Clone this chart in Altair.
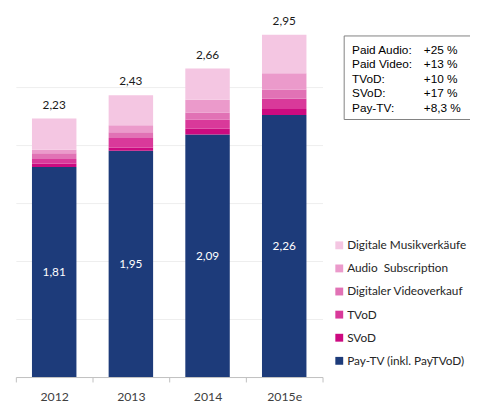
import altair as alt
import pandas as pd

categories = ["2012", "2013", "2014", "2015e"]
series = ["Pay-TV (inkl. PayTVoD)", "SVoD", "TVoD", "Digitaler Videoverkauf",
          "Audio\u00a0 Subscription", "Digitale Musikverkäufe"]
colors = ["#1d3b7a", "#cc0a80", "#d9399a", "#e172b5", "#eb9acb", "#f4c6e2"]

pay_tv = [1.81, 1.95, 2.09, 2.26]
svod = [0.03, 0.03, 0.05, 0.05]
tvod = [0.04, 0.08, 0.08, 0.09]
video = [0.05, 0.05, 0.06, 0.08]
audio = [0.03, 0.06, 0.11, 0.14]
music = [0.27, 0.26, 0.27, 0.33]
totals = [2.23, 2.43, 2.66, 2.95]

box_labels = ["Paid Audio:", "Paid Video:", "TVoD:", "SVoD:", "Pay-TV:"]
box_values = ["+25 %", "+13 %", "+10 %", "+17 %", "+8,3 %"]

def de(v):
    return f"{v:.2f}".replace(".", ",")

all_series = [pay_tv, svod, tvod, video, audio, music]
rows = []
for i, c in enumerate(categories):
    for k, (name, vals) in enumerate(zip(series, all_series)):
        rows.append({"year": c, "series": name, "value": vals[i], "order": k})
df = pd.DataFrame(rows)
df_tot = pd.DataFrame({"year": categories, "total": totals,
                       "label": [de(v) for v in totals]})
df_pay = pd.DataFrame({"year": categories, "pay": pay_tv,
                       "label": [de(v) for v in pay_tv]})

x_enc = alt.X("year:N", sort=categories,
              scale=alt.Scale(paddingInner=0, paddingOuter=0),
              axis=alt.Axis(title=None, labelAngle=0, tickBand="extent",
                            domainColor="#bfbfbf", tickColor="#bfbfbf",
                            tickSize=5, labelFont="Lato", labelFontSize=12.5,
                            labelColor="#404040", labelPadding=9, grid=False))

legend_order = list(reversed(series))
legend_colors = list(reversed(colors))

bars = alt.Chart(df).mark_bar(width=alt.RelativeBandSize(0.58)).encode(
    x=x_enc,
    y=alt.Y("value:Q", stack="zero",
            scale=alt.Scale(domain=[0, 3], nice=False),
            axis=alt.Axis(title=None, values=[0.5, 1, 1.5, 2, 2.5], labels=False,
                          ticks=False, domain=False, gridColor="#eeeeee")),
    color=alt.Color("series:N",
                    scale=alt.Scale(domain=legend_order, range=legend_colors),
                    legend=alt.Legend(title=None, orient="none", legendX=323,
                                      legendY=214, symbolType="square",
                                      symbolSize=64, symbolStrokeWidth=0,
                                      symbolOpacity=1,
                                      labelFont="Lato", labelFontSize=12,
                                      labelColor="#262626", rowPadding=11.5,
                                      labelOffset=2, padding=0, labelLimit=300)),
    order=alt.Order("order:Q", sort="ascending"),
)

x_plain = alt.X("year:N", sort=categories)

tot_text = alt.Chart(df_tot).mark_text(
    font="Lato", fontSize=12, color="#1a1a1a", baseline="alphabetic", dy=-10
).encode(x=x_plain, y=alt.Y("total:Q"), text="label:N")

pay_text = alt.Chart(df_pay).transform_calculate(mid="datum.pay / 2").mark_text(
    font="Lato", fontSize=12, color="white", baseline="middle"
).encode(x=x_plain, y=alt.Y("mid:Q"), text="label:N")

one = alt.Data(values=[{"a": 1}])
box = alt.Chart(one).mark_rect(fill="white", stroke="#7f7f7f", strokeWidth=1).encode(
    x=alt.value(334), x2=alt.value(520), y=alt.value(7), y2=alt.value(92))
box_l = alt.Chart(one).mark_text(
    text=box_labels, align="left", baseline="middle", lineHeight=14.75,
    font="Liberation Sans", fontSize=12, color="#000000"
).encode(x=alt.value(342), y=alt.value(21))
box_v = alt.Chart(one).mark_text(
    text=box_values, align="left", baseline="middle", lineHeight=14.75,
    font="Liberation Sans", fontSize=12, color="#000000"
).encode(x=alt.value(415), y=alt.value(21))

chart = alt.layer(bars, tot_text, pay_text, box, box_l, box_v).properties(
    width=312, height=354,
    padding={"left": 8, "top": 18, "right": 150, "bottom": 25},
    autosize=alt.AutoSizeParams(type="none"),
).configure(background="white", view=alt.ViewConfig(stroke=None))

chart.save("out.html", embed_options={"renderer": "svg", "actions": False})
